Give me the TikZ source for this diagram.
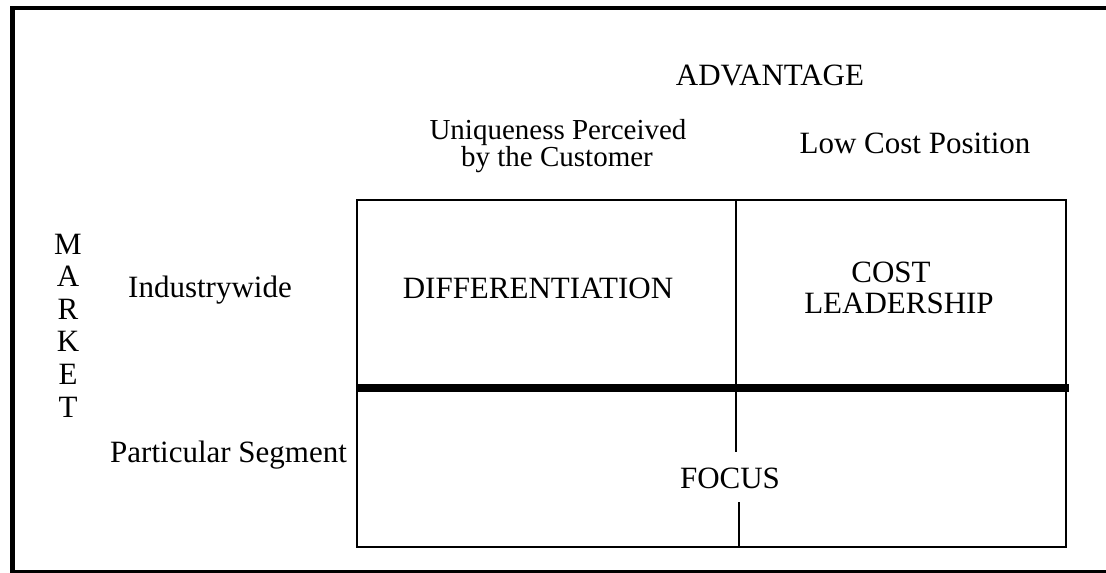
\documentclass[tikz,border=0pt]{standalone}
\usepackage{fontspec}
\setmainfont{Liberation Serif}
\begin{document}
\begin{tikzpicture}[x=1pt,y=-1pt,
  lbl/.style={inner sep=0pt,anchor=base,font=\fontsize{31}{31}\selectfont},
  lblw/.style={lbl,anchor=base west},
  lbls/.style={lbl,font=\fontsize{29}{29}\selectfont},
  frame/.style={line width=4.5pt},
  grid/.style={line width=2.6pt},
  split/.style={line width=8pt}]
  \clip (0,0) rectangle (1106,573);
  \useasboundingbox (0,0) rectangle (1106,573);
  % outer frame, running off the right edge
  \draw[frame] (1120,572) -- (12.5,572) -- (12.5,8) -- (1120,8);
  % the 2x2 matrix
  \draw[grid] (357,200) rectangle (1066,547);
  \draw[split] (357,388) -- (1069,388);
  \draw[grid] (736,200) -- (736,452);
  \draw[grid] (739,502) -- (739,547);
  % column headings
  \node[lbl] (adv) at (770,85) {ADVANTAGE};
  \node[lbls] (uniqA) at (558,139) {Uniqueness Perceived};
  \node[lbls] (uniqB) at (557,166.5) {by the Customer};
  \node[lbl] (low) at (915,153) {Low Cost Position};
  % row headings
  \foreach \ch [count=\i from 0] in {M,A,R,K,E,T}
    \node[lbl] (mk\i) at (68,254+32.6*\i) {\ch};
  \node[lblw] (ind) at (128,297) {Industrywide};
  \node[lblw] (seg) at (110,462) {Particular Segment};
  % cell texts
  \node[lbl] (diff) at (538,298) {DIFFERENTIATION};
  \node[lbl] (cost) at (891,282) {COST};
  \node[lbl] (lead) at (899,313) {LEADERSHIP};
  \node[lbl] (focus) at (730,488) {FOCUS};
\end{tikzpicture}
\end{document}
